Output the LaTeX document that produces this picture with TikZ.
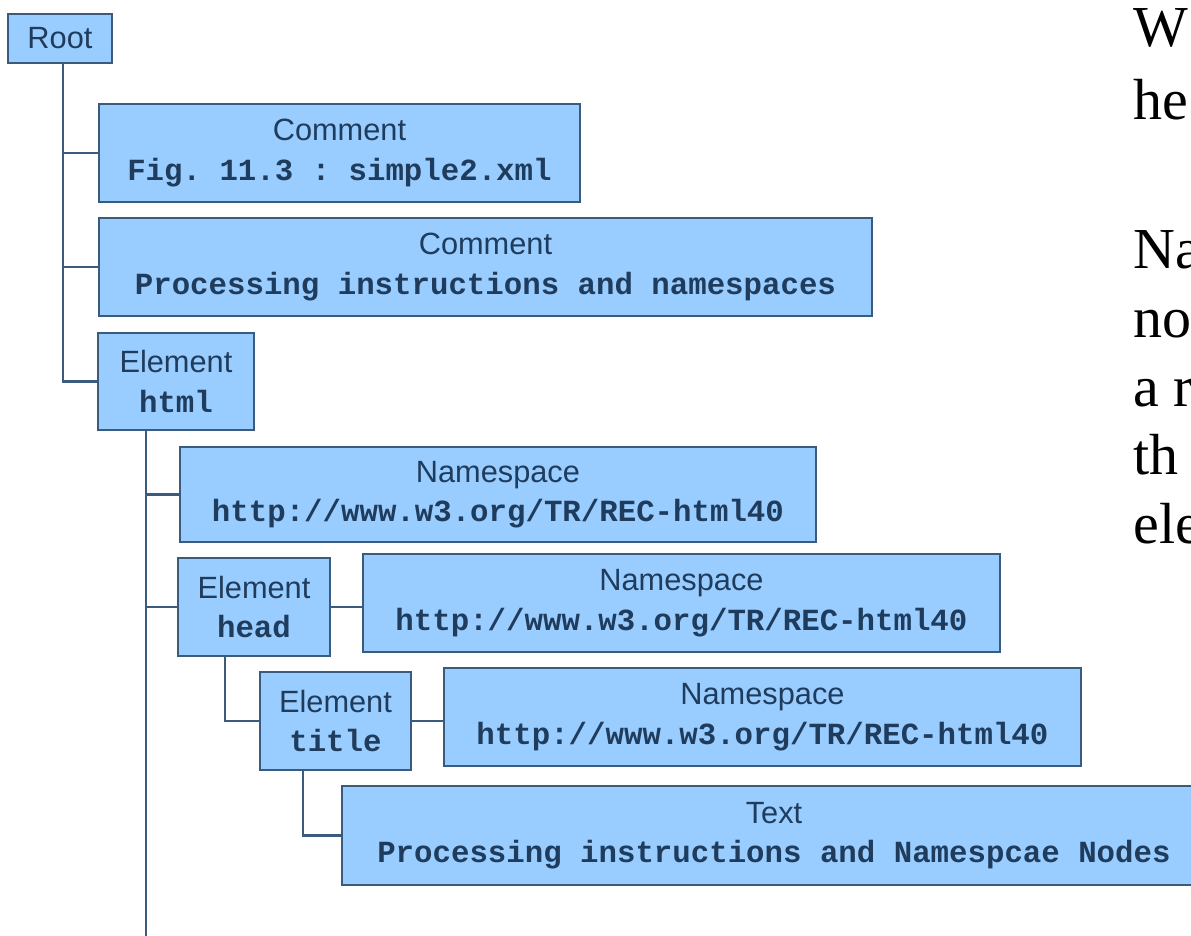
\documentclass[tikz,border=0pt]{standalone}
\usepackage{fontspec}
\setmainfont{Liberation Serif}
\setsansfont{Liberation Sans}
\setmonofont{Liberation Mono}
\definecolor{boxfill}{HTML}{99CCFF}
\definecolor{boxline}{HTML}{3B5B7D}
\definecolor{boxtext}{HTML}{1F3C5C}
\newdimen\pxu \pxu=0.02cm
\newcommand{\val}[1]{{\ttfamily\bfseries #1}}
\tikzset{
	domnode/.style={draw=boxline, fill=boxfill, line width=1.1pt, inner sep=0pt, anchor=north west,
		align=center, text=boxtext, font=\sffamily\fontsize{17.5}{22.5}\selectfont},
	branch/.style={draw=boxline, line width=1.2pt},
	prose/.style={anchor=base west, inner sep=0pt, font=\fontsize{33}{40}\selectfont},
}

\begin{document}
\begin{tikzpicture}[x=0.02cm, y=-0.02cm]
	\useasboundingbox (0,0) rectangle (1191,936);
	\clip (0,0) rectangle (1191,936);
	\node[domnode, minimum width=104\pxu, minimum height=49\pxu] (root) at (7,13) {Root};
	\node[domnode, minimum width=481\pxu, minimum height=98\pxu] (cmt1) at (98,103) {Comment\\\val{Fig. 11.3 : simple2.xml}};
	\node[domnode, minimum width=773\pxu, minimum height=98\pxu] (cmt2) at (98,217) {Comment\\\val{Processing instructions and namespaces}};
	\node[domnode, minimum width=156\pxu, minimum height=97\pxu] (html) at (97,332) {Element\\\val{html}};
%
	\node[domnode, minimum width=636\pxu, minimum height=95\pxu] (ns1) at (179,446) {Namespace\\\val{http://www.w3.org/TR/REC-html40}};
	\node[domnode, minimum width=152\pxu, minimum height=98\pxu] (head) at (177,557) {Element\\\val{head}};
	\node[domnode, minimum width=637\pxu, minimum height=98\pxu] (ns2) at (362,553) {Namespace\\\val{http://www.w3.org/TR/REC-html40}};
	\node[domnode, minimum width=151\pxu, minimum height=98\pxu] (title) at (259,671) {Element\\\val{title}};
	\node[domnode, minimum width=637\pxu, minimum height=98\pxu] (ns3) at (443,667) {Namespace\\\val{http://www.w3.org/TR/REC-html40}};
	\node[domnode, minimum width=864\pxu, minimum height=99\pxu] (txt) at (341,785) {Text\\\val{Processing instructions and Namespcae Nodes}};
%
	\foreach \kid in {cmt1,cmt2,html}
		\draw[branch] ([xshift=56\pxu]root.south west) |- (\kid.west);
	\coordinate (htmlfoot) at (146,936);
	\draw[branch] (htmlfoot |- html.south) -- (htmlfoot);
	\foreach \kid in {ns1,head}
		\draw[branch] (htmlfoot |- html.south) |- (\kid.west);
	\draw[branch] (head.east) -- (head.east -| ns2.west);
	\draw[branch] ([xshift=48\pxu]head.south west) |- (title.west);
	\draw[branch] (title.east) -- (title.east -| ns3.west);
	\draw[branch] ([xshift=44\pxu]title.south west) |- (txt.west);
%
	\node[prose] (l1) at (1133,47) {W};
	\node[prose] (l2) at (1133,120) {he};
	\node[prose] (l3) at (1133,268) {Na};
	\node[prose] (l4) at (1133,337) {no};
	\node[prose] (l5) at (1133,406) {a r};
	\node[prose] (l6) at (1133,474) {th};
	\node[prose] (l7) at (1133,543) {ele};
\end{tikzpicture}
\end{document}
